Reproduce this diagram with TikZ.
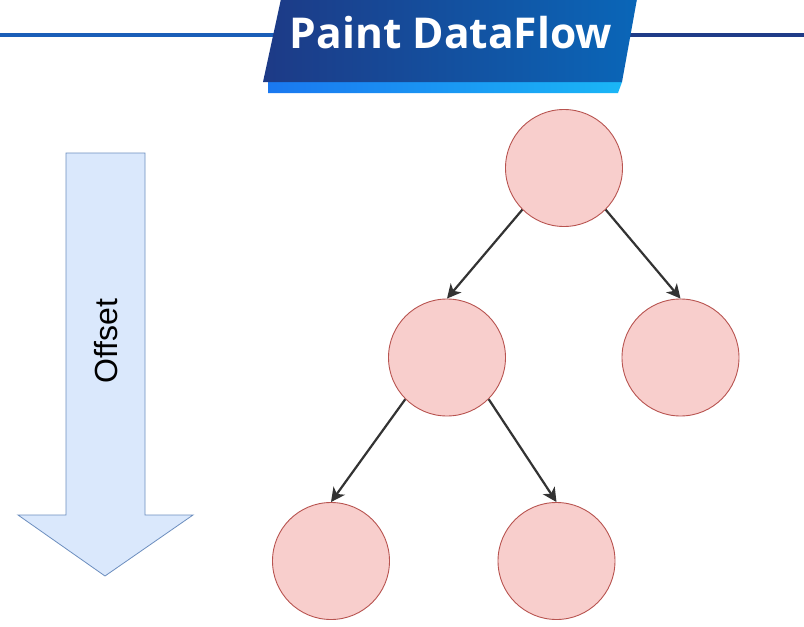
\documentclass[tikz,border=0pt]{standalone}
\usepackage{fontspec}
\newfontfamily\titlefont{Open Sans}
\newfontfamily\labelfont{Liberation Sans}
\usetikzlibrary{arrows.meta}
\definecolor{circfill}{HTML}{F8CECC}
\definecolor{circline}{HTML}{B85450}
\definecolor{arrfill}{HTML}{DAE8FC}
\definecolor{arrline}{HTML}{6C8EBF}
\definecolor{edgecol}{HTML}{333333}
\definecolor{titleL}{HTML}{1D3A86}
\definecolor{titleR}{HTML}{0A66B8}
\definecolor{barL}{HTML}{1A78F0}
\definecolor{barR}{HTML}{1AB6F6}
\definecolor{lineL}{HTML}{1A5EB8}
\definecolor{lineR}{HTML}{1F3C88}
\tikzset{
  treenode/.style={circle, draw=circline, fill=circfill, line width=0.9pt, minimum size=117pt, inner sep=0pt},
  flow/.style={draw=edgecol, line width=2.2pt, -{Stealth[length=14pt,width=14pt,inset=4pt]}},
}
\begin{document}
\begin{tikzpicture}[x=1pt,y=-1pt]
\useasboundingbox (0,0) rectangle (804,627);
\fill[white] (0,0) rectangle (804,627);
% header rules
\draw[lineL, line width=3.5pt] (0,35) -- (282,35);
\draw[lineR, line width=3.5pt] (628,35) -- (804,35);
% title banner
\shade[left color=barL, right color=barR] (268,82) -- (622,82) -- (618,93) -- (268,93) -- cycle;
\shade[left color=titleL, right color=titleR] (281,-1) -- (637,-1) -- (622,82) -- (263,82) -- cycle;
\node[anchor=base, text=white, font=\titlefont\bfseries\fontsize{42.5}{46}\selectfont, inner sep=0pt] (title) at (451,48) {Paint DataFlow};
% offset arrow
\draw[draw=arrline, fill=arrfill, line width=0.8pt] (66,153) -- (145,153) -- (145,515) -- (193,515) -- (105,576) -- (18,515) -- (66,515) -- cycle;
\node[rotate=90, font=\labelfont\fontsize{32}{36}\selectfont, inner sep=0pt] (offset) at (106,341) {Offset};
% tree
\node[treenode] (root) at (564,168) {};
\node[treenode] (ml) at (447,357.5) {};
\node[treenode] (mr) at (680.5,357.5) {};
\node[treenode] (bl) at (331,561) {};
\node[treenode] (br) at (556.5,561) {};
\draw[flow] (root.225) -- (ml.north);
\draw[flow] (root.-45) -- (mr.north);
\draw[flow] (ml.225) -- (bl.north);
\draw[flow] (ml.-45) -- (br.north);
\end{tikzpicture}
\end{document}
